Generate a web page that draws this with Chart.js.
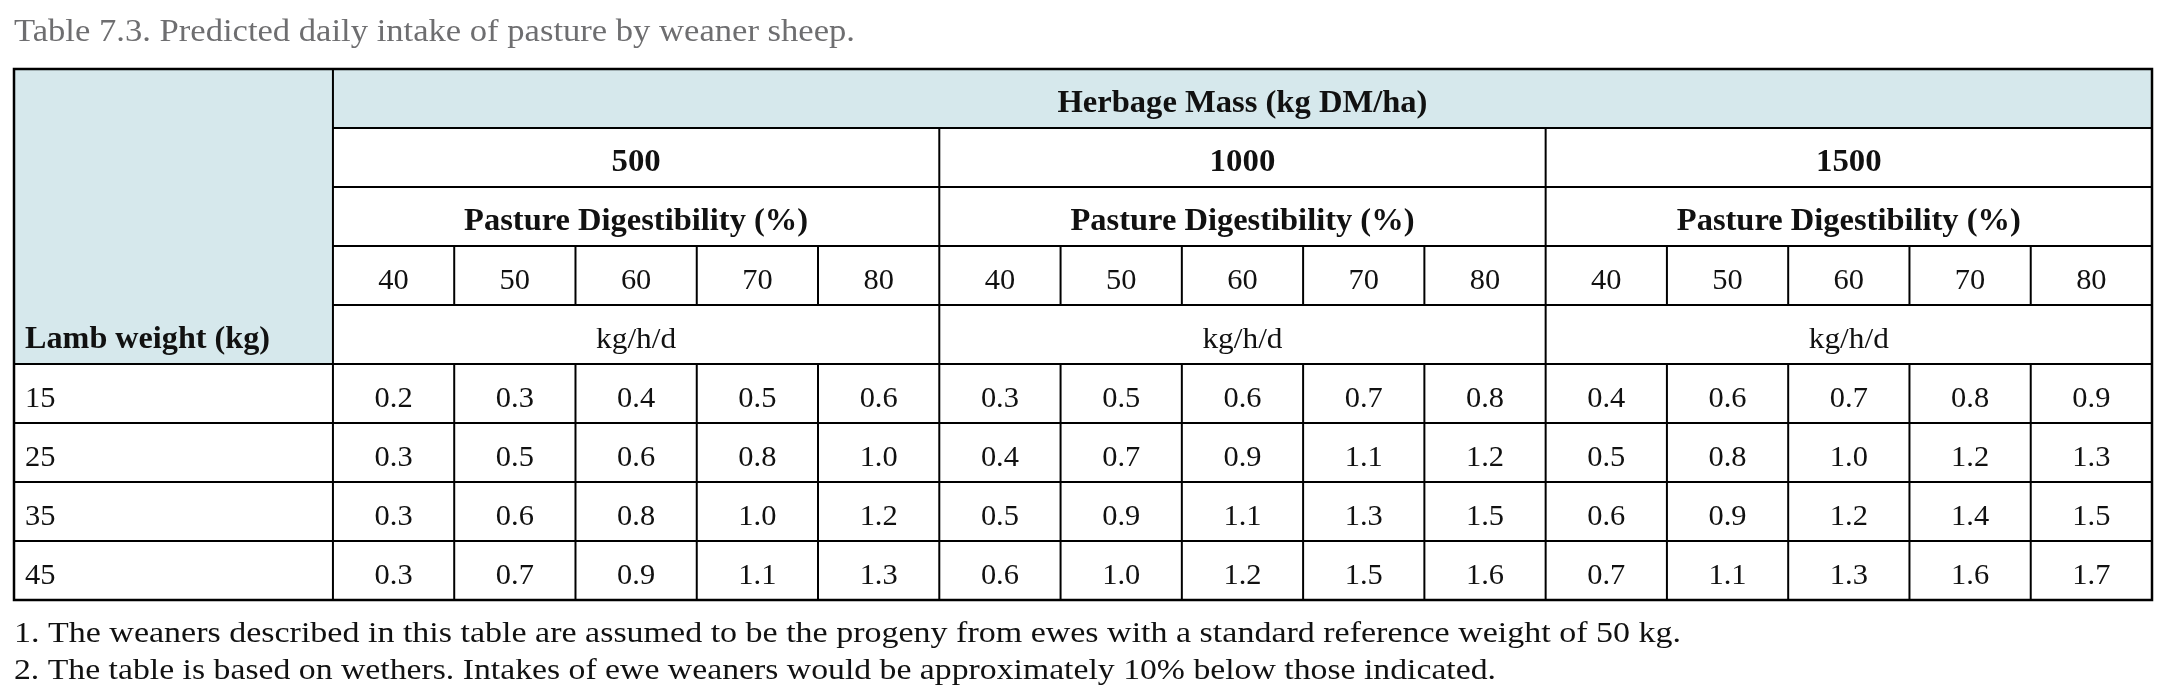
<!DOCTYPE html>
<html>
<head>
<meta charset="utf-8">
<script src="https://cdn.jsdelivr.net/npm/chart.js@4.4.0/dist/chart.umd.min.js"></script>
<style>
  html, body { margin: 0; padding: 0; background: #ffffff; }
  #wrap { position: relative; width: 2166px; height: 698px; }
</style>
</head>
<body>
<div id="wrap"><canvas id="c"></canvas></div>
<script>
// ---- Data ----
const titleText = 'Table 7.3. Predicted daily intake of pasture by weaner sheep.';
const groupHeader = 'Herbage Mass (kg DM/ha)';
const herbageMass = ['500', '1000', '1500'];
const subHeader = 'Pasture Digestibility (%)';
const digestibility = ['40', '50', '60', '70', '80'];
const unitLabel = 'kg/h/d';
const rowHeader = 'Lamb weight (kg)';
const lambWeights = ['15', '25', '35', '45'];
const intake15 = [0.2, 0.3, 0.4, 0.5, 0.6, 0.3, 0.5, 0.6, 0.7, 0.8, 0.4, 0.6, 0.7, 0.8, 0.9];
const intake25 = [0.3, 0.5, 0.6, 0.8, 1.0, 0.4, 0.7, 0.9, 1.1, 1.2, 0.5, 0.8, 1.0, 1.2, 1.3];
const intake35 = [0.3, 0.6, 0.8, 1.0, 1.2, 0.5, 0.9, 1.1, 1.3, 1.5, 0.6, 0.9, 1.2, 1.4, 1.5];
const intake45 = [0.3, 0.7, 0.9, 1.1, 1.3, 0.6, 1.0, 1.2, 1.5, 1.6, 0.7, 1.1, 1.3, 1.6, 1.7];
const footnotes = [
  '1. The weaners described in this table are assumed to be the progeny from ewes with a standard reference weight of 50 kg.',
  '2. The table is based on wethers. Intakes of ewe weaners would be approximately 10% below those indicated.'
];

// ---- Layout (in scale units) ----
const LEFT = 2.63;              // width of the row-label column, in data-column units
const NCOLS = herbageMass.length * digestibility.length;
const HEADER_ROWS = 5;
const NROWS = HEADER_ROWS + lambWeights.length;
const intakeRows = [intake15, intake25, intake35, intake45];

const SERIF = '"Liberation Serif", "DejaVu Serif", serif';
const BLUE = '#d6e8ec';
const CELL_FS = 29;
const HEAD_FS = 31;
const BASE_OFF = 13;   // baseline offset below row middle

const datasets = intakeRows.map((vals, r) => ({
  label: lambWeights[r] + ' kg',
  values: vals,
  data: vals.map((v, i) => ({ x: LEFT + i + 0.5, y: HEADER_ROWS + r + 0.5 })),
  pointRadius: 0,
  pointHoverRadius: 0,
  showLine: false
}));

// draws text; if width given, stretches horizontally to that width, else by factor sx
function txt(ctx, s, x, y, size, weight, align, color, sx, width) {
  ctx.save();
  ctx.font = (weight || 'normal') + ' ' + size + 'px ' + SERIF;
  ctx.textAlign = 'left';
  ctx.textBaseline = 'alphabetic';
  ctx.fillStyle = color || '#111';
  const w = ctx.measureText(s).width;
  let k = sx || 1;
  if (width) k = width / w;
  const ww = w * k;
  let x0 = x;
  if (align === 'center' || !align) x0 = x - ww / 2;
  else if (align === 'right') x0 = x - ww;
  ctx.translate(x0, y);
  ctx.scale(k, 1);
  ctx.fillText(s, 0, 0);
  ctx.restore();
}

const tablePlugin = {
  id: 'tablePlugin',
  beforeDatasetsDraw(chart) {
    const ctx = chart.ctx;
    const xs = chart.scales.x, ys = chart.scales.y;
    const X = v => xs.getPixelForValue(v);
    const Y = v => ys.getPixelForValue(v);
    const xEnd = LEFT + NCOLS;
    ctx.save();
    // backgrounds
    ctx.fillStyle = BLUE;
    ctx.fillRect(X(0), Y(0), X(xEnd) - X(0), Y(1) - Y(0));
    ctx.fillRect(X(0), Y(0), X(LEFT) - X(0), Y(HEADER_ROWS) - Y(0));

    ctx.strokeStyle = '#000';
    ctx.lineWidth = 2;
    const line = (x1, y1, x2, y2) => { ctx.beginPath(); ctx.moveTo(X(x1), Y(y1)); ctx.lineTo(X(x2), Y(y2)); ctx.stroke(); };
    for (let r = 1; r < HEADER_ROWS; r++) line(LEFT, r, xEnd, r);
    for (let r = HEADER_ROWS; r < NROWS; r++) line(0, r, xEnd, r);
    line(LEFT, 0, LEFT, NROWS);
    for (let g = 1; g < herbageMass.length; g++) line(LEFT + g * 5, 1, LEFT + g * 5, NROWS);
    for (let c = 1; c < NCOLS; c++) {
      if (c % 5 === 0) continue;
      line(LEFT + c, 3, LEFT + c, 4);
      line(LEFT + c, HEADER_ROWS, LEFT + c, NROWS);
    }
    ctx.lineWidth = 2.5;
    ctx.strokeRect(X(0), Y(0), X(xEnd) - X(0), Y(NROWS) - Y(0));

    // header texts
    const rowMid = r => (Y(r) + Y(r + 1)) / 2;
    const base = r => rowMid(r) + BASE_OFF;
    txt(ctx, groupHeader, (X(LEFT) + X(xEnd)) / 2, base(0), HEAD_FS, 'bold', 'center', '#111', 0, 370);
    herbageMass.forEach((m, g) => {
      const cx = (X(LEFT + g * 5) + X(LEFT + g * 5 + 5)) / 2;
      txt(ctx, m, cx, base(1), HEAD_FS, 'bold', 'center', '#111', 1.06);
      txt(ctx, subHeader, cx, base(2), HEAD_FS, 'bold', 'center', '#111', 0, 344);
      digestibility.forEach((d, k) => {
        txt(ctx, d, (X(LEFT + g * 5 + k) + X(LEFT + g * 5 + k + 1)) / 2, base(3), CELL_FS, 'normal', 'center', '#111', 1.05);
      });
      txt(ctx, unitLabel, cx, base(4), CELL_FS, 'normal', 'center', '#111', 1.08);
    });
    txt(ctx, rowHeader, X(0) + 11, base(4), HEAD_FS, 'bold', 'left', '#111', 0, 245);
    lambWeights.forEach((w, r) => {
      txt(ctx, w, X(0) + 11, base(HEADER_ROWS + r), CELL_FS, 'normal', 'left', '#111', 1.05);
    });
    ctx.restore();
  },
  afterDatasetsDraw(chart) {
    const ctx = chart.ctx;
    ctx.save();
    chart.data.datasets.forEach((ds, di) => {
      const meta = chart.getDatasetMeta(di);
      meta.data.forEach((pt, i) => {
        txt(ctx, ds.values[i].toFixed(1), pt.x, pt.y + BASE_OFF, CELL_FS, 'normal', 'center', '#111', 1.05);
      });
    });
    // title and footnotes
    txt(ctx, titleText, 14, 41, 32, 'normal', 'left', '#6e6e70', 0, 841);
    const yb = chart.scales.y.getPixelForValue(NROWS);
    txt(ctx, footnotes[0], 14, yb + 42, 30, 'normal', 'left', '#111', 0, 1667);
    txt(ctx, footnotes[1], 14, yb + 79, 30, 'normal', 'left', '#111', 0, 1482);
    ctx.restore();
  }
};

Chart.defaults.devicePixelRatio = 1;
new Chart(document.getElementById('c'), {
  type: 'scatter',
  data: { datasets },
  options: {
    responsive: true,
    maintainAspectRatio: false,
    animation: false,
    events: [],
    layout: { padding: { left: 14, right: 14, top: 69, bottom: 98 } },
    plugins: { legend: { display: false }, tooltip: { enabled: false }, title: { display: false } },
    scales: {
      x: { type: 'linear', min: 0, max: LEFT + NCOLS, display: false },
      y: { type: 'linear', min: 0, max: NROWS, reverse: true, display: false }
    }
  },
  plugins: [tablePlugin]
});
</script>
</body>
</html>
